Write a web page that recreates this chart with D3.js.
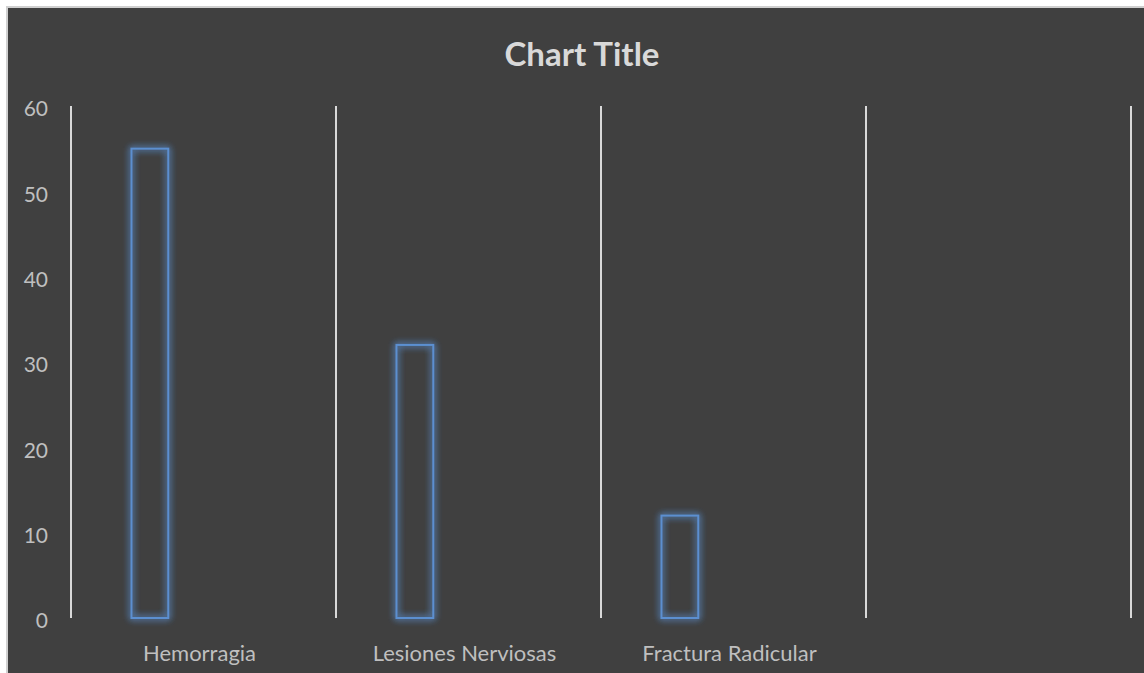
<!DOCTYPE html>
<html>
<head>
<meta charset="utf-8">
<script src="https://cdn.jsdelivr.net/npm/d3@7"></script>
<style>
  html, body { margin: 0; padding: 0; background: #ffffff; overflow: hidden; }
  svg { display: block; }
</style>
</head>
<body>
<svg></svg>
<script>
// data
let categories = ['Hemorragia', 'Lesiones Nerviosas', 'Fractura Radicular', '']
let values = [55, 32, 12, null]
let yTicks = [0, 10, 20, 30, 40, 50, 60]
let title = 'Chart Title'

let width = 1144
let height = 673
let frame = { x: 6, y: 6, w: 1152, h: 680 } // chart area runs past the window on the right
let plot = { left: 71, right: 1131, top: 106, bottom: 618 }

let svg = d3.select('svg')
    .attr('width', width)
    .attr('height', height)

// glow for the bar outlines
let defs = svg.append('defs')
let glow = defs.append('filter')
    .attr('id', 'glow')
    .attr('x', '-50%').attr('y', '-50%')
    .attr('width', '200%').attr('height', '200%')
glow.append('feGaussianBlur')
    .attr('in', 'SourceGraphic')
    .attr('stdDeviation', 3.5)
    .attr('result', 'blur')
let merge = glow.append('feMerge')
merge.append('feMergeNode').attr('in', 'blur')
merge.append('feMergeNode').attr('in', 'blur')
merge.append('feMergeNode').attr('in', 'SourceGraphic')

// chart background with light border
svg.append('rect')
    .attr('x', frame.x + 1)
    .attr('y', frame.y + 1)
    .attr('width', frame.w)
    .attr('height', frame.h)
    .attr('fill', '#404040')
    .attr('stroke', '#d0d0d0')
    .attr('stroke-width', 2)

// scales
let xScale = d3.scaleBand()
    .domain(categories)
    .range([plot.left, plot.right])
    .padding(0)

// bar sits left of centre inside each category
let barScale = d3.scaleBand()
    .domain(['Series 1'])
    .range([0, xScale.bandwidth()])
    .paddingOuter(3.1)
    .align(0.265)

let yScale = d3.scaleLinear()
    .domain([0, d3.max(yTicks)])
    .range([plot.bottom, plot.top])

// vertical gridlines at category boundaries
let bounds = categories.map(c => xScale(c)).concat([xScale(categories[categories.length - 1]) + xScale.bandwidth()])
svg.append('g')
    .selectAll('line')
    .data(bounds)
    .enter()
    .append('line')
    .attr('x1', d => d)
    .attr('x2', d => d)
    .attr('y1', yScale(d3.max(yTicks)))
    .attr('y2', yScale(0))
    .attr('stroke', '#d9d9d9')
    .attr('stroke-width', 2)

// y axis labels (no axis line)
let yAxis = d3.axisLeft(yScale)
    .tickValues(yTicks)
    .tickSize(0)
    .tickPadding(23)
let yG = svg.append('g')
    .attr('transform', 'translate(' + plot.left + ', 3)')
    .call(yAxis)
yG.select('.domain').remove()
yG.selectAll('text')
    .attr('fill', '#bfbfbf')
    .style('font-family', 'Lato, "Open Sans", sans-serif')
    .style('font-size', '21px')

// x axis labels
let xAxis = d3.axisBottom(xScale)
    .tickSize(0)
    .tickPadding(27)
let xG = svg.append('g')
    .attr('transform', 'translate(0, ' + plot.bottom + ')')
    .call(xAxis)
xG.select('.domain').remove()
xG.selectAll('text')
    .attr('fill', '#bfbfbf')
    .attr('dx', -4)
    .style('font-family', 'Lato, "Open Sans", sans-serif')
    .style('font-size', '22px')

// bars: outlined with a blue glow
let barData = categories.map((c, i) => ({ cat: c, value: values[i] })).filter(d => d.value != null)
svg.append('g')
    .selectAll('rect')
    .data(barData)
    .enter()
    .append('rect')
    .attr('x', d => xScale(d.cat) + barScale('Series 1'))
    .attr('y', d => yScale(d.value))
    .attr('width', barScale.bandwidth())
    .attr('height', d => yScale(0) - yScale(d.value))
    .attr('fill', 'none')
    .attr('stroke', '#5b8fd0')
    .attr('stroke-width', 2)
    .attr('filter', 'url(#glow)')

// title
svg.append('text')
    .attr('x', frame.x + frame.w / 2)
    .attr('y', 66)
    .attr('text-anchor', 'middle')
    .attr('fill', '#d9d9d9')
    .style('font-family', 'Lato, "Open Sans", sans-serif')
    .style('font-weight', 'bold')
    .style('font-size', '33px')
    .text(title)
</script>
</body>
</html>
